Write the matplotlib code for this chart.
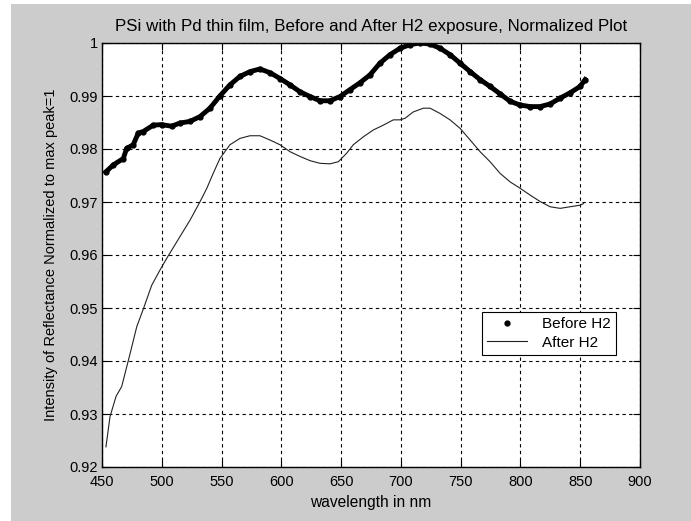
import matplotlib
matplotlib.use("Agg")
import matplotlib.pyplot as plt
import matplotlib.patches as patches
from matplotlib.lines import Line2D

plt.rcParams['font.family'] = ['Liberation Sans', 'DejaVu Sans']

# wavelength (nm) and normalized reflectance
wl_before = [453.3, 459.5, 467.8, 470.6, 476.1, 480.3, 484.5, 492.9, 499.8, 508.2,
             515.2, 523.5, 531.9, 540.3, 548.6, 557.0, 565.4, 573.8, 582.1, 590.5,
             598.9, 607.2, 615.6, 624.0, 632.3, 640.7, 649.1, 657.4, 665.8, 674.2,
             682.5, 690.9, 699.3, 707.7, 716.0, 724.4, 732.8, 741.1, 749.5, 757.9,
             766.2, 774.6, 783.0, 791.3, 799.7, 808.1, 816.4, 824.8, 833.2, 841.5,
             849.9, 854.1]
before = [0.9757, 0.9770, 0.9782, 0.9801, 0.9808, 0.9830, 0.9833, 0.9845, 0.9846, 0.9843,
          0.9849, 0.9852, 0.9861, 0.9877, 0.9900, 0.9921, 0.9937, 0.9946, 0.9951, 0.9944,
          0.9933, 0.9921, 0.9908, 0.9899, 0.9891, 0.9891, 0.9899, 0.9912, 0.9925, 0.9940,
          0.9962, 0.9978, 0.9990, 0.9997, 1.0000, 0.9998, 0.9990, 0.9978, 0.9962, 0.9946,
          0.9931, 0.9918, 0.9904, 0.9890, 0.9883, 0.9880, 0.9880, 0.9885, 0.9896, 0.9906,
          0.9918, 0.9931]

wl_after = [453.3, 456.7, 461.7, 466.5, 473.5, 479.1, 484.7, 491.6, 498.6, 504.2,
            515.3, 523.7, 532.1, 537.7, 543.0, 548.6, 557.0, 565.4, 573.8, 582.1,
            590.5, 598.9, 607.2, 615.6, 624.0, 632.3, 640.7, 647.7, 654.6, 660.2,
            668.6, 677.0, 685.3, 693.7, 699.3, 703.5, 710.4, 718.8, 724.4, 732.8,
            741.1, 749.5, 757.9, 766.2, 774.6, 783.0, 791.3, 799.7, 808.1, 816.4,
            824.8, 833.2, 841.5, 849.9, 852.7]
after = [0.9238, 0.9295, 0.9333, 0.9352, 0.9414, 0.9465, 0.9499, 0.9543, 0.9572, 0.9594,
         0.9635, 0.9666, 0.9701, 0.9726, 0.9754, 0.9782, 0.9808, 0.9820, 0.9825, 0.9825,
         0.9817, 0.9808, 0.9795, 0.9786, 0.9778, 0.9773, 0.9772, 0.9776, 0.9792, 0.9808,
         0.9823, 0.9836, 0.9845, 0.9855, 0.9855, 0.9858, 0.9870, 0.9877, 0.9877, 0.9867,
         0.9855, 0.9839, 0.9817, 0.9795, 0.9776, 0.9754, 0.9738, 0.9726, 0.9713, 0.9701,
         0.9691, 0.9688, 0.9691, 0.9694, 0.9697]

xticks = [450, 500, 550, 600, 650, 700, 750, 800, 850, 900]
yticks = [0.92, 0.93, 0.94, 0.95, 0.96, 0.97, 0.98, 0.99, 1.0]
ytick_labels = ['0.92', '0.93', '0.94', '0.95', '0.96', '0.97', '0.98', '0.99', '1']

fs = 10.5
fig = plt.figure(figsize=(6.91, 5.21), dpi=100, facecolor='white')
# grey figure panel (white strip at top and left like the screenshot)
fig.patches.append(patches.Rectangle((11 / 691, 0), 1, 1 - 4 / 521, transform=fig.transFigure,
                                     facecolor='#cccccc', edgecolor='none', zorder=-10))

ax = fig.add_axes([102 / 691, 54 / 521, 538 / 691, 424 / 521])
ax.set_facecolor('white')

ax.plot(wl_before, before, color='black', lw=3.5, marker='.', ms=7, zorder=3)
ax.plot(wl_after, after, color='#222222', lw=0.8, zorder=3)

ax.set_xlim(450, 900)
ax.set_ylim(0.92, 1.0)
ax.set_xticks(xticks)
ax.set_yticks(yticks)
ax.set_yticklabels(ytick_labels)
ax.tick_params(direction='in', length=5, width=0.8, top=True, right=True,
               labelsize=fs, colors='black', pad=3)
ax.tick_params(axis='x', pad=6)
ax.grid(True, color='black', linestyle=(0, (3, 3)), linewidth=0.8)
for s in ax.spines.values():
    s.set_color('black')
    s.set_linewidth(1.0)

ax.set_title('PSi with Pd thin film, Before and After H2 exposure, Normalized Plot',
             fontsize=12.2, pad=9)
ax.set_xlabel('wavelength in nm', fontsize=11.2, labelpad=4)
ax.set_ylabel('Intensity of Reflectance Normalized to max peak=1', fontsize=fs, labelpad=8)

handles = [Line2D([], [], color='black', marker='.', ls='none', ms=7),
           Line2D([], [], color='#222222', lw=0.8)]
leg = ax.legend(handles, ['Before H2', 'After H2'], loc='upper left',
                bbox_to_anchor=(0.706, 0.366), fontsize=11, fancybox=False,
                framealpha=1, edgecolor='black', borderpad=0.35, handlelength=2.6,
                labelspacing=0.3, borderaxespad=0, handletextpad=1.0)
leg.get_frame().set_linewidth(0.8)

fig.savefig('out.png', dpi=100, facecolor=fig.get_facecolor())
